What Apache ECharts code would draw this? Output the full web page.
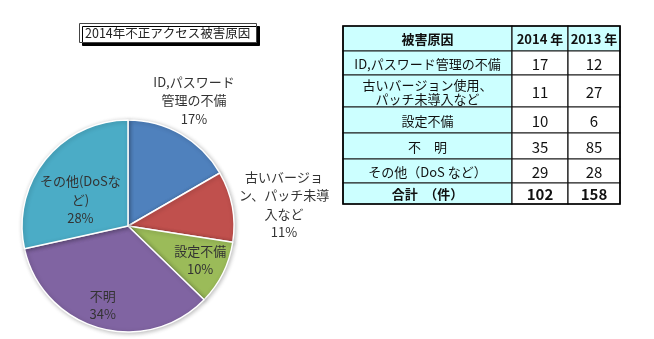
<!DOCTYPE html>
<html><head><meta charset="utf-8">
<script src="https://cdn.jsdelivr.net/npm/echarts@6/dist/echarts.min.js"></script>
<style>html,body{margin:0;padding:0;background:#fff}#c{width:654px;height:339px}</style>
</head><body><div id="c"></div>
<script>
// ---- data ----
const titleText = '2014年不正アクセス被害原因';
const pieNames = ['ID,パスワード\n管理の不備', '古いバージョ\nン、パッチ未導\n入など', '設定不備', '不明', 'その他(DoSな\nど)'];
const tableHeader = ['被害原因', '2014 年', '2013 年'];
const tableNames = ['ID,パスワード管理の不備', '古いバージョン使用、\nパッチ未導入など', '設定不備', '不　明', 'その他（DoS など）'];
const totalName = '合計　（件）';
const values2014 = [17, 11, 10, 35, 29];
const values2013 = [12, 27, 6, 85, 28];

// ---- styles / layout ----
const colors = ['#4F81BD', '#C0504D', '#9BBB59', '#8064A2', '#4BACC6'];
const labelOffsets = [[38, -77], [101, -11], [22, 9], [-10, 25], [-4, 9]];
const FONT = '"Noto Sans CJK JP", sans-serif';
const colX = [343, 512, 568, 620];
const rowY = [26, 51, 75, 107, 133, 159, 183, 204];

const chart = echarts.init(document.getElementById('c'), null, {renderer: 'canvas'});

const pieData = values2014.map((v, i) => ({
  value: v, name: pieNames[i],
  itemStyle: {color: colors[i]},
  label: {offset: labelOffsets[i]}
}));

// table graphics
const graphics = [];
const sum = a => a.reduce((s, x) => s + x, 0);
const rows = [tableHeader].concat(
  tableNames.map((n, i) => [n, String(values2014[i]), String(values2013[i])]),
  [[totalName, String(sum(values2014)), String(sum(values2013))]]
);
rows.forEach((r, ri) => {
  r.forEach((txt, ci) => {
    const x0 = colX[ci], x1 = colX[ci + 1], y0 = rowY[ri], y1 = rowY[ri + 1];
    const isHead = ri === 0, isTotal = ri === rows.length - 1;
    const fill = (isHead || ci === 0) ? '#CCFFFF' : '#FFFFFF';
    graphics.push({
      type: 'rect', shape: {x: x0, y: y0, width: x1 - x0, height: y1 - y0},
      style: {fill: fill, stroke: '#1a1a1a', lineWidth: 1.2}, z: 1
    });
    const bold = isHead || isTotal;
    const isNum = ci > 0 && !isHead;
    graphics.push({
      type: 'text', z: 2,
      style: {
        x: (x0 + x1) / 2, y: (y0 + y1) / 2 + 1, text: txt,
        align: 'center', verticalAlign: 'middle',
        font: (bold ? 'bold ' : '') + (isNum ? '15px ' : '13px ') + FONT,
        fill: '#111', lineHeight: 14
      }
    });
  });
});
graphics.push({
  type: 'rect', shape: {x: colX[0], y: rowY[0], width: colX[3] - colX[0], height: rowY[rowY.length - 1] - rowY[0]},
  style: {fill: 'none', stroke: '#000', lineWidth: 1.6}, z: 3
});

chart.setOption({
  animation: false,
  backgroundColor: '#fff',
  title: {
    text: titleText, left: 79, top: 23,
    padding: [3, 6, 3, 6],
    backgroundColor: '#fff', borderColor: '#444', borderWidth: 1,
    shadowColor: '#000', shadowOffsetX: 3, shadowOffsetY: 3, shadowBlur: 0,
    textStyle: {fontFamily: FONT, fontSize: 12.5, lineHeight: 14, fontWeight: 'normal', color: '#222'}
  },
  series: [{
    type: 'pie',
    center: [128, 226], radius: 106,
    startAngle: 90, clockwise: true,
    percentPrecision: 0,
    itemStyle: {borderColor: '#fff', borderWidth: 1.5, shadowColor: 'rgba(0,0,0,0.25)', shadowBlur: 4, shadowOffsetX: 1, shadowOffsetY: 1},
    label: {
      show: true, position: 'inside', formatter: '{b}\n{d}%',
      color: '#333', fontFamily: FONT, fontSize: 13, lineHeight: 18.5
    },
    labelLine: {show: false},
    emphasis: {disabled: true},
    data: pieData
  }],
  graphic: graphics
});
</script></body></html>
